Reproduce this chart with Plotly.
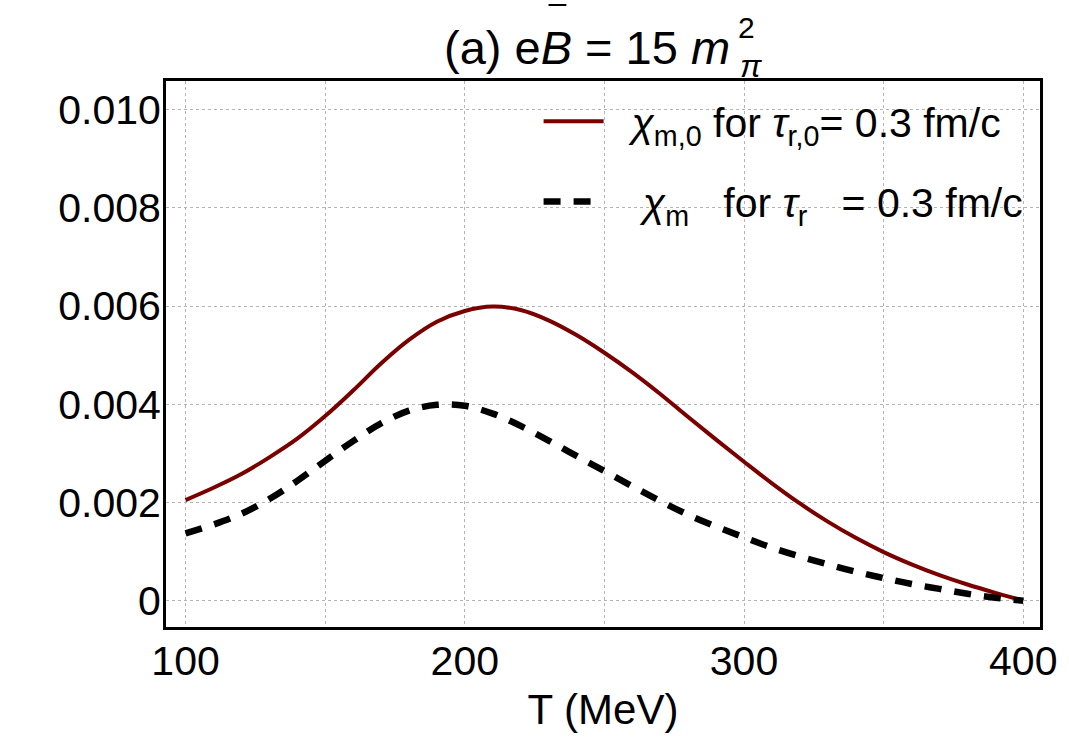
import plotly.graph_objects as go

# Data
T_chi_m0 = [100, 110, 120, 130, 140, 150, 160, 170, 180, 190, 200, 210, 220, 230, 240, 250,
            260, 270, 280, 290, 300, 310, 320, 330, 340, 350, 360, 370, 380, 390, 400]
chi_m0 = [0.00205, 0.00230, 0.00258, 0.00292, 0.00330, 0.00376, 0.00428, 0.00483, 0.00531,
          0.00568, 0.00590, 0.00599, 0.00592, 0.00571, 0.00541, 0.00505, 0.00465, 0.00421,
          0.00374, 0.00328, 0.00283, 0.00239, 0.00198, 0.00161, 0.00128, 0.00099, 0.00074,
          0.00052, 0.00033, 0.00016, 0.0]

T_chi_m = [100, 110, 120, 130, 140, 150, 160, 170, 180, 190, 200, 210, 220, 230, 240, 250,
           260, 270, 280, 290, 300, 310, 320, 330, 340, 350, 360, 370, 380, 390, 400]
chi_m = [0.00137, 0.00155, 0.00177, 0.00207, 0.00244, 0.00285, 0.00325, 0.00361, 0.00387,
         0.00399, 0.00397, 0.00381, 0.00356, 0.00326, 0.00295, 0.00264, 0.00233, 0.00203,
         0.00175, 0.00151, 0.00129, 0.00108, 0.00090, 0.00074, 0.00059, 0.00046, 0.00034,
         0.00024, 0.00014, 0.00006, 0.0]

x_tickvals = [100, 150, 200, 250, 300, 350, 400]
x_ticktext = ["100", "", "200", "", "300", "", "400"]
y_tickvals = [0, 0.002, 0.004, 0.006, 0.008, 0.010]
y_ticktext = ["0", "0.002", "0.004", "0.006", "0.008", "0.010"]

FONT = "Liberation Sans, Arial, sans-serif"
NB = "\u00a0"

fig = go.Figure()
fig.add_trace(go.Scatter(
    x=T_chi_m0, y=chi_m0, mode="lines", line=dict(color="#7a0000", width=4, shape="spline"),
    name=f"{NB}{NB}<i>χ</i><sub>m,0</sub> for <i>τ</i><sub>r,0</sub>= 0.3 fm/c", legendgroup="a"))
fig.add_trace(go.Scatter(
    x=T_chi_m, y=chi_m, mode="lines",
    line=dict(color="black", width=6.5, dash="17px,13px", shape="spline"),
    name=f"{NB}{NB}{NB}<i>χ</i><sub>m</sub>{NB}{NB}{NB}for <i>τ</i><sub>r</sub>{NB}{NB}{NB}= 0.3 fm/c",
    legendgroup="b"))

L, R, T, B = 166, 21, 81, 111
W, H = 1069, 738
pw, ph = W - L - R, H - T - B

def px(x):
    return (x - L) / pw

def py(y):
    return (H - B - y) / ph

fig.update_layout(
    width=W, height=H,
    margin=dict(l=L, r=R, t=T, b=B),
    paper_bgcolor="white", plot_bgcolor="white",
    font=dict(family=FONT, size=41, color="black"),
    showlegend=True,
    legend=dict(x=px(542), y=py(88), xanchor="left", yanchor="top",
                bgcolor="rgba(0,0,0,0)", font=dict(size=41),
                tracegroupgap=24, traceorder="grouped", itemwidth=60),
    xaxis=dict(range=[93.0, 406.0], tickvals=x_tickvals, ticktext=x_ticktext,
               showgrid=True, gridcolor="#b5b5b5", griddash="dot", gridwidth=1,
               showline=True, linecolor="black", linewidth=3, mirror=True,
               zeroline=False, ticks="", ticklen=0, tickfont=dict(size=41),
               ticklabelstandoff=-4,
               title=dict(text="T (MeV)", font=dict(size=42), standoff=12)),
    yaxis=dict(range=[-0.000536, 0.010585], tickvals=y_tickvals, ticktext=y_ticktext,
               showgrid=True, gridcolor="#b5b5b5", griddash="dot", gridwidth=1,
               showline=True, linecolor="black", linewidth=3, mirror=True,
               zeroline=False, ticks="", ticklen=0, tickfont=dict(size=41),
               ticklabelstandoff=-6),
)

# Title pieces
fig.add_annotation(text="(a) e<i>B</i> = 15 <i>m</i>", xref="paper", yref="paper",
                   x=px(737), y=py(48), xanchor="right", yanchor="middle",
                   showarrow=False, font=dict(size=47))
fig.add_annotation(text="2", xref="paper", yref="paper",
                   x=px(752), y=py(28), xanchor="center", yanchor="middle",
                   showarrow=False, font=dict(size=30))
fig.add_annotation(text="<i>π</i>", xref="paper", yref="paper",
                   x=px(756), y=py(66), xanchor="center", yanchor="middle",
                   showarrow=False, font=dict(size=32))
fig.add_shape(type="line", xref="paper", yref="paper",
              x0=px(552), x1=px(570), y0=py(5), y1=py(5),
              line=dict(color="black", width=2))

fig.write_html("out.html")
